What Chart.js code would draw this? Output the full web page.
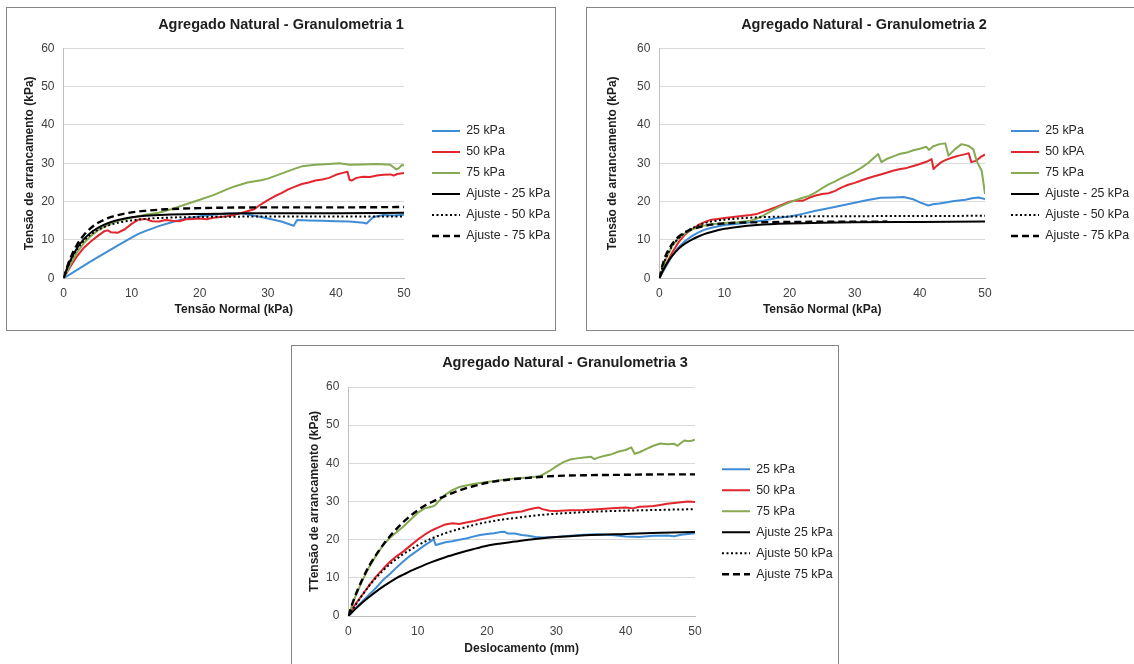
<!DOCTYPE html>
<html>
<head>
<meta charset="utf-8">
<script src="https://cdn.jsdelivr.net/npm/chart.js@4.4.1/dist/chart.umd.min.js"></script>
<style>
  html, body { margin: 0; padding: 0; background: #fff; width: 1134px; height: 664px; overflow: hidden; }
  .box { position: absolute; border: 1px solid #858585; background: #fff; }
  .box canvas { display: block; }
</style>
</head>
<body>
<div class="box" style="left:6px;top:7px;width:548px;height:322px"><canvas id="g1" width="548" height="322"></canvas></div>
<div class="box" style="left:586px;top:7px;width:554px;height:322px"><canvas id="g2" width="554" height="322"></canvas></div>
<div class="box" style="left:291px;top:345px;width:546px;height:320px"><canvas id="g3" width="546" height="320"></canvas></div>
<script>
// series labels
var labels1 = ['25 kPa', '50 kPa', '75 kPa', 'Ajuste - 25 kPa', 'Ajuste - 50 kPa', 'Ajuste - 75 kPa'];
var labels2 = ['25 kPa', '50 kPA', '75 kPa', 'Ajuste - 25 kPa', 'Ajuste - 50 kPa', 'Ajuste - 75 kPa'];
var labels3 = ['25 kPa', '50 kPa', '75 kPa', 'Ajuste 25 kPa', 'Ajuste 50 kPa', 'Ajuste 75 kPa'];

// Granulometria 1 : [x, y]
var g1_25 = [[0,0],[2,2.2],[4,4.4],[6,6.5],[8,8.6],[10,10.6],[11,11.6],[12,12.3],[14,13.6],[16,14.7],[18,15.6],[20,16.2],[22,16.6],[24,16.9],[26,17.0],[27.4,16.5],[29,16.0],[30,15.6],[32,14.8],[33.8,13.7],[34.3,15.2],[36,15.1],[38,15.0],[40,14.9],[42,14.8],[44,14.5],[44.5,14.3],[45.5,16.0],[47,16.5],[48.5,16.4],[50,16.6]];
var g1_50 = [[0,0],[1,3],[2,5.8],[3,8],[4,9.6],[5,11],[6,12.3],[6.5,12.5],[7,12],[8,11.9],[9,12.8],[10,14.2],[11,15.3],[12,15.5],[13,14.9],[14,14.8],[15,15.2],[16,15],[17,14.9],[18,15.4],[19,15.5],[20,15.6],[21,15.4],[22,15.8],[23,16],[24,16.2],[25,16.5],[26,17],[27,17.5],[28,18],[29,19.3],[30,20.4],[31,21.4],[32,22.2],[33,23.2],[34,23.9],[35,24.6],[36,25],[37,25.5],[38,25.8],[39,26.2],[40,27],[41,27.5],[41.7,27.8],[42,25.7],[42.3,25.5],[43,26.2],[44,26.5],[45,26.4],[46,26.8],[47,27],[48,27.1],[48.5,26.8],[49,27.2],[50,27.5]];
var g1_75 = [[0,0],[1,3.5],[2,6.8],[3,9.2],[4,11],[5,12.4],[6,13.5],[7,14.3],[8,15],[10,15.8],[12,16.6],[14,17.1],[15,17.6],[16,18.1],[18,19.3],[20,20.5],[22,21.7],[24,23.2],[25,23.9],[27,25],[29,25.6],[30,26],[32,27.3],[34,28.6],[35,29.2],[37,29.6],[39,29.8],[40.5,30],[42,29.6],[44,29.7],[46,29.8],[48,29.6],[48.9,28.4],[49.3,28.8],[49.7,29.6],[50,29.4]];
var g1_fit25 = [[0,0],[0.5,2.5],[1,4.6],[2,7.9],[3,10.2],[4,11.9],[5,13.1],[6,14],[7,14.7],[8,15.2],[10,15.9],[12,16.3],[15,16.6],[20,16.8],[25,16.9],[30,17],[40,17],[50,17.1]];
var g1_fit50 = [[0,0],[1,4.5],[2,7.6],[3,9.8],[4,11.4],[5,12.6],[6,13.4],[8,14.5],[10,15.1],[12,15.5],[15,15.8],[20,16],[30,16.1],[50,16.1]];
var g1_fit75 = [[0,0],[0.5,2.8],[1,5.2],[2,8.8],[3,11.3],[4,13.1],[5,14.4],[6,15.3],[7,16],[8,16.5],[10,17.2],[12,17.6],[15,18],[20,18.3],[30,18.5],[40,18.5],[50,18.6]];

// Granulometria 2
var g2_25 = [[0,0],[1,3],[2,6],[3,8.2],[4,9.8],[5,11],[6,12],[7,12.7],[8,13.2],[10,13.9],[12,14.2],[14,14.6],[16,15.1],[18,15.7],[20,16.1],[22,16.8],[24,17.6],[26,18.3],[28,19],[30,19.7],[32,20.4],[34,21],[36,21.1],[37.5,21.2],[39,20.6],[40,19.8],[41.3,19],[42,19.3],[43,19.5],[44,19.8],[45,20.1],[46,20.3],[47,20.5],[48,20.9],[49,21.1],[50,20.7]];
var g2_50 = [[0,0],[1,3.5],[2,6.8],[3,9.5],[4,11.5],[5,12.8],[6,13.9],[7,14.7],[8,15.3],[9,15.5],[10,15.7],[12,16.1],[14,16.5],[15,16.8],[16,17.4],[18,18.6],[20,20],[21,20.3],[22,20.2],[23,21],[24,21.6],[25,22],[26,22.2],[27,22.8],[28,23.7],[29,24.4],[30,24.9],[31,25.5],[32,26.1],[33,26.6],[34,27.1],[35,27.6],[36,28.1],[37,28.5],[38,28.8],[39,29.3],[40,29.8],[41,30.4],[41.8,31.1],[42.1,28.5],[42.5,29.2],[43.3,30.3],[44,30.9],[45,31.5],[46,32],[47,32.4],[47.5,32.6],[47.9,30.3],[48.7,30.7],[49.3,31.6],[50,32.3]];
var g2_75 = [[0,0],[1,5],[2,8.5],[3,10.5],[4,11.8],[5,12.7],[6,13.3],[7,13.8],[8,14.1],[10,14.4],[12,14.6],[14,15],[15,15.6],[16,16.4],[18,18.3],[20,19.8],[22,21],[23,21.5],[24,22.4],[25,23.5],[26,24.5],[27,25.3],[28,26.2],[29,27],[30,27.8],[31,28.8],[32,30],[33,31.5],[33.6,32.4],[34.1,30.3],[35,31.2],[36.2,32],[37,32.5],[38.2,32.9],[39,33.4],[40,33.8],[41,34.3],[41.4,33.5],[42,34.4],[43,35],[43.9,35.2],[44.4,32],[45.4,33.7],[46.4,35],[47.4,34.6],[48.2,33.7],[48.7,30.7],[49.5,28],[50,22]];
var g2_fit25 = [[0,0],[0.5,1.8],[1,3.4],[2,5.9],[3,7.8],[4,9.1],[5,10.1],[6,10.9],[7,11.6],[8,12.1],[10,12.9],[12,13.4],[15,13.9],[20,14.3],[25,14.5],[30,14.6],[40,14.7],[50,14.8]];
var g2_fit50 = [[0,0],[0.5,3],[1,5.3],[2,8.5],[3,10.5],[4,12],[5,13],[6,13.8],[7,14.4],[8,14.8],[10,15.3],[12,15.6],[15,15.9],[20,16.1],[30,16.2],[50,16.3]];
var g2_fit75 = [[0,0],[0.5,3.5],[1,6],[2,9],[3,10.9],[4,12],[5,12.8],[6,13.3],[7,13.7],[8,14],[10,14.3],[12,14.5],[15,14.6],[20,14.7],[35,14.8]];

// Granulometria 3
var g3_25 = [[0,0],[1,2],[2,3.8],[3,5.6],[4,7.4],[5,9.4],[6,11],[7,12.8],[8,14.4],[9,15.9],[10,17.2],[11,18.5],[12,19.7],[12.3,20.2],[12.6,18.6],[13,18.8],[14,19.3],[15,19.6],[16,20],[17,20.3],[18,20.8],[19,21.2],[20,21.5],[21,21.7],[22,22],[22.5,22.1],[23,21.6],[24,21.6],[25,21.2],[26,21],[27,20.7],[28,20.6],[30,20.7],[32,21],[34,21.3],[36,21.4],[38,21.2],[40,20.8],[42,20.7],[44,21],[46,21.1],[47,20.9],[48,21.3],[50,21.7]];
var g3_50 = [[0,0],[1,3],[2,5.5],[3,8],[4,10.3],[5,12.3],[6,14.2],[7,15.7],[8,17],[9,18.5],[10,20],[11,21.3],[12,22.4],[13,23.2],[14,24],[15,24.3],[16,24.1],[17,24.5],[18,24.8],[19,25.3],[20,25.7],[21,26.2],[22,26.5],[23,26.9],[24,27.2],[25,27.4],[26,27.9],[27,28.3],[27.5,28.4],[28,28],[29,27.6],[30,27.5],[32,27.7],[34,27.8],[36,28],[38,28.2],[40,28.4],[41,28.2],[42,28.6],[43,28.7],[44,28.8],[45,29.1],[46,29.4],[47,29.6],[48,29.8],[49,30],[50,29.9]];
var g3_75 = [[0,0],[1,5],[2,9.2],[3,12.8],[4,15.8],[5,18.5],[6,20.5],[7,22],[8,23.5],[9,25.3],[10,27],[11,28.2],[12,28.6],[12.5,29],[13,30],[14,31.8],[15,33],[16,33.8],[18,34.6],[20,35.1],[22,35.6],[24,36],[26,36.3],[27.5,36.6],[28,37],[29,38],[30,39.2],[31,40.3],[32,41],[33,41.3],[34,41.5],[35,41.7],[35.5,41.1],[36,41.5],[37,42],[38,42.4],[39,43.1],[40,43.5],[40.8,44.2],[41.3,42.5],[42,42.9],[43,43.8],[44,44.6],[45,45.2],[46,45],[47,45.1],[47.5,44.6],[48,45.4],[48.5,46],[49,45.8],[49.5,45.9],[50,46.2]];
var g3_fit25 = [[0,0],[1,1.8],[2,3.5],[3,5],[4,6.4],[5,7.7],[6,8.9],[7,10],[8,10.9],[9,11.8],[10,12.6],[12,14.1],[14,15.4],[16,16.5],[18,17.5],[20,18.4],[22,19],[24,19.5],[26,20],[28,20.4],[30,20.7],[32,20.9],[35,21.2],[40,21.5],[45,21.8],[50,22]];
var g3_fit50 = [[0,0],[1,2.8],[2,5.4],[3,7.9],[4,10],[5,11.9],[6,13.6],[7,15],[8,16.3],[9,17.4],[10,18.5],[12,20.3],[14,21.7],[16,22.8],[18,23.8],[20,24.6],[22,25.2],[25,25.9],[28,26.5],[30,26.8],[35,27.3],[40,27.6],[45,27.8],[50,28]];
var g3_fit75 = [[0,0],[0.5,2.8],[1,5.3],[2,9.5],[3,13.1],[4,16],[5,18.6],[6,20.9],[7,22.9],[8,24.7],[9,26.3],[10,27.7],[11,28.9],[12,29.8],[13,30.7],[14,31.5],[15,32.2],[16,32.9],[17,33.5],[18,34],[20,34.9],[22,35.5],[24,35.9],[26,36.2],[28,36.5],[30,36.7],[35,36.9],[40,37],[45,37.1],[50,37.1]];

var xTicks = {min: 0, max: 50, step: 10};
var yTicks = {min: 0, max: 60, step: 10};

Chart.defaults.font.family = '"Liberation Sans", Arial, sans-serif';

var colors = ['#3f8dd6', '#e2262d', '#86aa52', '#000', '#000', '#000'];
var widths = [2, 2, 2, 2, 2, 2.4];
var dashes = [[], [], [], [], [2, 2.5], [7, 4]];

function toPts(arr) {
    return arr.map(function(p) { return {x: p[0], y: p[1]}; });
}

// legend entries drawn as short line samples with the dataset's dash
function legendItems(chart) {
    return chart.data.datasets.map(function(ds, i) {
        return {
            text: ds.label,
            fillStyle: ds.borderColor,
            strokeStyle: ds.borderColor,
            lineWidth: ds.borderWidth,
            lineDash: ds.borderDash,
            lineCap: 'butt',
            pointStyle: 'line',
            fontColor: '#262626',
            hidden: false,
            datasetIndex: i
        };
    });
}

// legend block at a fixed spot right of the plot, title centred on the whole canvas
var boxSpots = {
    id: 'boxSpots',
    afterLayout: function(chart, args, opts) {
        var lg = chart.legend;
        var pad = lg.options.labels.padding;
        lg.left = opts.x - pad;
        lg.right = lg.left + lg.width;
        lg.top = opts.y - pad;
        lg.bottom = lg.top + lg.height;

        var tb = chart.titleBlock;
        tb.left = 0;
        tb.right = chart.width;
        tb.width = chart.width;
    }
};

function makeChart(id, o) {
    var datasets = o.series.map(function(s, i) {
        var fit = i >= 3;
        return {
            label: o.labels[i],
            data: toPts(s),
            borderColor: colors[i],
            backgroundColor: colors[i],
            borderWidth: widths[i],
            borderDash: dashes[i],
            borderJoinStyle: 'round',
            pointRadius: 0,
            tension: 0,
            cubicInterpolationMode: fit ? 'monotone' : 'default',
            order: 5 - i
        };
    });
    return new Chart(document.getElementById(id), {
        type: 'line',
        data: {datasets: datasets},
        plugins: [boxSpots],
        options: {
            responsive: false,
            animation: false,
            events: [],
            layout: {padding: {left: 0, top: 0, bottom: 0, right: o.padRight}},
            scales: {
                x: {
                    type: 'linear',
                    min: xTicks.min, max: xTicks.max,
                    afterFit: function(s) { s.height = o.xHeight; },
                    ticks: {stepSize: xTicks.step, padding: 8, color: '#404040', font: {size: 12}},
                    grid: {display: false, drawTicks: false},
                    border: {display: true, color: '#bfbfbf', width: 1},
                    title: {display: true, text: o.xTitle, color: '#1e1e1e', font: {size: 12, weight: 'bold'},
                            padding: {top: 0, bottom: o.xTitlePad}}
                },
                y: {
                    min: yTicks.min, max: yTicks.max,
                    afterFit: function(s) { s.width = o.yWidth; },
                    ticks: {stepSize: yTicks.step, padding: 9, color: '#404040', font: {size: 12}},
                    grid: {color: '#d9d9d9', lineWidth: 1, drawTicks: false},
                    border: {display: true, color: '#bfbfbf', width: 1},
                    title: {display: true, text: o.yTitle, color: '#1e1e1e', font: {size: 12, weight: 'bold'},
                            padding: {top: o.yTitlePad, bottom: 0}}
                }
            },
            plugins: {
                title: {display: true, text: o.title, color: '#1e1e1e', font: {size: 14.5, weight: 'bold'},
                        padding: {top: o.titleTop, bottom: o.titleBottom}},
                legend: {
                    position: 'chartArea',
                    align: 'start',
                    labels: {usePointStyle: true, pointStyleWidth: 28, padding: 8.6,
                             font: {size: 12.4}, generateLabels: legendItems}
                },
                tooltip: {enabled: false},
                boxSpots: {x: o.legendX, y: o.legendY}
            }
        }
    });
}

makeChart('g1', {
    title: 'Agregado Natural - Granulometria 1',
    xTitle: 'Tensão Normal (kPa)',
    yTitle: 'Tensão de arrancamento (kPa)',
    labels: labels1,
    series: [g1_25, g1_50, g1_75, g1_fit25, g1_fit50, g1_fit75],
    padRight: 151, xHeight: 51.7, yWidth: 56.5,
    xTitlePad: 12.8, yTitlePad: 15.9, titleTop: 8.3, titleBottom: 14.6,
    legendX: 425, legendY: 116.8
});

makeChart('g2', {
    title: 'Agregado Natural - Granulometria 2',
    xTitle: 'Tensão Normal (kPa)',
    yTitle: 'Tensão de arrancamento (kPa)',
    labels: labels2,
    series: [g2_25, g2_50, g2_75, g2_fit25, g2_fit50, g2_fit75],
    padRight: 156, xHeight: 51.7, yWidth: 72.3,
    xTitlePad: 12.8, yTitlePad: 18.2, titleTop: 8.3, titleBottom: 14.6,
    legendX: 424, legendY: 116.8
});

makeChart('g3', {
    title: 'Agregado Natural - Granulometria 3',
    xTitle: 'Deslocamento (mm)',
    yTitle: 'TTensão de arrancamento (kPa)',
    labels: labels3,
    series: [g3_25, g3_50, g3_75, g3_fit25, g3_fit50, g3_fit75],
    padRight: 143, xHeight: 50, yWidth: 56.3,
    xTitlePad: 10.5, yTitlePad: 15, titleTop: 8.6, titleBottom: 15,
    legendX: 430, legendY: 117.1
});
</script>
</body>
</html>
